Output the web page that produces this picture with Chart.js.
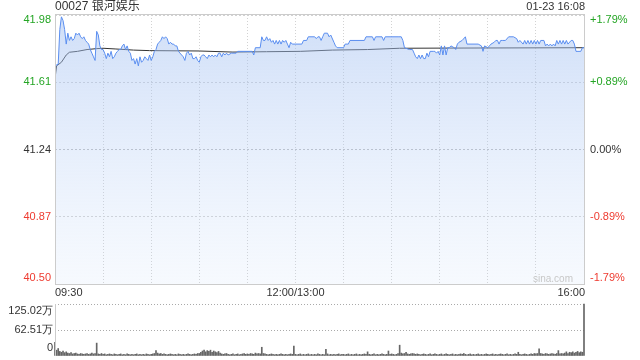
<!DOCTYPE html>
<html>
<head>
<meta charset="utf-8">
<title>00027 银河娱乐</title>
<script src="https://cdn.jsdelivr.net/npm/chart.js"></script>
<style>
  body { margin: 0; background: #fff; }
  #wrap { position: relative; width: 640px; height: 360px; }
  canvas { position: absolute; left: 0; }
  #main { top: 0; }
  #vol { top: 300px; }
</style>
</head>
<body>
<div id="wrap">
  <canvas id="main" width="640" height="300"></canvas>
  <canvas id="vol" width="640" height="60"></canvas>
</div>
<script>
// header texts
const stockTitle = '00027 银河娱乐';
const stamp = '01-23 16:08';

// minutes after 09:30 (lunch break removed, 330 = 16:00)
const priceMinutes = [
  0, 2, 3, 4, 5, 6, 7, 8, 9, 10, 11, 12, 13, 14, 15, 16, 17, 18, 19, 20,
  21, 22, 23, 24, 25, 26, 27, 28, 29, 30, 31, 32, 33, 34, 35, 36, 37, 38, 39, 40,
  41, 42, 43, 44, 45, 46, 47, 48, 49, 50, 51, 52, 53, 54, 55, 56, 57, 58, 59, 60,
  61, 62, 63, 64, 65, 66, 67, 68, 69, 70, 71, 72, 73, 74, 75, 76, 77, 79, 80, 81,
  82, 83, 84, 85, 86, 87, 88, 89, 90, 91, 92, 93, 94, 95, 96, 97, 98, 99, 100, 101,
  102, 103, 104, 105, 106, 107, 108, 110, 113, 114, 123, 124, 125, 128, 129, 130, 131, 132, 133, 134,
  135, 136, 137, 138, 139, 140, 141, 142, 143, 144, 145, 146, 147, 148, 154, 155, 157, 158, 162, 163,
  164, 165, 166, 167, 168, 170, 171, 172, 174, 175, 176, 180, 181, 183, 184, 193, 194, 198, 199, 200,
  204, 205, 206, 214, 216, 217, 218, 221, 223, 224, 225, 226, 227, 228, 229, 230, 231, 232, 233, 234,
  236, 237, 238, 239, 240, 241, 242, 243, 244, 245, 246, 247, 249, 250, 251, 252, 254, 256, 257, 264,
  266, 267, 268, 270, 271, 272, 274, 275, 276, 277, 278, 279, 281, 283, 286, 288, 289, 290, 292, 293,
  294, 295, 296, 297, 298, 299, 300, 301, 302, 303, 305, 306, 307, 308, 309, 310, 311, 312, 313, 314,
  315, 316, 317, 318, 319, 320, 322, 323, 324, 325, 328, 329, 330
];
const prices = [
  41.70, 41.71, 41.90, 41.97, 41.95, 41.90, 41.82, 41.88, 41.84, 41.86, 41.84, 41.85, 41.88, 41.87, 41.88, 41.86, 41.85, 41.86, 41.84, 41.83,
  41.82, 41.79, 41.77, 41.75, 41.73, 41.89, 41.87, 41.81, 41.79, 41.79, 41.77, 41.74, 41.77, 41.75, 41.78, 41.74, 41.75, 41.77, 41.78, 41.79,
  41.79, 41.81, 41.82, 41.79, 41.81, 41.78, 41.77, 41.73, 41.74, 41.71, 41.74, 41.70, 41.75, 41.72, 41.73, 41.75, 41.74, 41.73, 41.76, 41.73,
  41.75, 41.78, 41.79, 41.82, 41.83, 41.84, 41.86, 41.85, 41.86, 41.85, 41.82, 41.83, 41.82, 41.82, 41.81, 41.81, 41.78, 41.76, 41.75, 41.73,
  41.77, 41.78, 41.76, 41.77, 41.74, 41.74, 41.75, 41.73, 41.72, 41.75, 41.76, 41.76, 41.75, 41.74, 41.76, 41.75, 41.76, 41.75, 41.76, 41.75,
  41.77, 41.77, 41.75, 41.77, 41.76, 41.77, 41.76, 41.77, 41.77, 41.78, 41.78, 41.76, 41.80, 41.80, 41.86, 41.84, 41.84, 41.86, 41.84, 41.85,
  41.83, 41.84, 41.82, 41.84, 41.82, 41.84, 41.82, 41.84, 41.83, 41.84, 41.82, 41.80, 41.83, 41.82, 41.82, 41.84, 41.84, 41.86, 41.86, 41.85,
  41.86, 41.86, 41.84, 41.86, 41.88, 41.88, 41.86, 41.87, 41.83, 41.81, 41.80, 41.80, 41.82, 41.82, 41.84, 41.84, 41.86, 41.86, 41.84, 41.86,
  41.86, 41.84, 41.86, 41.86, 41.86, 41.84, 41.80, 41.79, 41.79, 41.77, 41.75, 41.74, 41.76, 41.74, 41.76, 41.74, 41.74, 41.77, 41.75, 41.78,
  41.78, 41.78, 41.77, 41.78, 41.76, 41.81, 41.76, 41.81, 41.76, 41.80, 41.80, 41.81, 41.80, 41.79, 41.82, 41.83, 41.84, 41.86, 41.82, 41.82,
  41.81, 41.78, 41.81, 41.80, 41.81, 41.82, 41.83, 41.84, 41.84, 41.82, 41.84, 41.84, 41.84, 41.86, 41.86, 41.85, 41.83, 41.84, 41.82, 41.84,
  41.82, 41.84, 41.82, 41.84, 41.82, 41.84, 41.82, 41.84, 41.82, 41.84, 41.84, 41.81, 41.82, 41.81, 41.82, 41.81, 41.82, 41.81, 41.84, 41.82,
  41.84, 41.82, 41.84, 41.82, 41.84, 41.82, 41.84, 41.84, 41.82, 41.78, 41.78, 41.80, 41.80
];

// average price line
const avgMinutes = [0, 1, 4, 7, 9, 14, 20, 26, 30, 38, 49, 59, 90, 111, 132, 153, 173, 195, 215, 246, 330];
const avgPrices = [41.63, 41.70, 41.72, 41.76, 41.775, 41.78, 41.79, 41.795, 41.797, 41.793, 41.787, 41.784, 41.782, 41.776, 41.778, 41.78, 41.787, 41.79, 41.797, 41.798, 41.80];

// volume per minute, in 万 (index = minute)
const volumes = [
  33, 14, 18, 11, 9, 12, 8, 10, 7, 6, 8, 5, 6, 7, 5, 4, 6, 5, 4, 5, 6, 4, 5, 7, 5, 6, 31, 5, 4, 6,
  4, 5, 3, 4, 5, 4, 3, 5, 4, 3, 4, 5, 3, 4, 3, 5, 4, 3, 4, 3, 4, 5, 3, 4, 3, 4, 3, 5, 4, 3,
  4, 5, 6, 13, 7, 5, 6, 4, 5, 4, 3, 4, 5, 4, 3, 4, 3, 5, 4, 3, 4, 3, 4, 5, 4, 3, 4, 5, 4, 6,
  6, 9, 12, 14, 10, 13, 11, 14, 9, 12, 10, 8, 11, 7, 5, 4, 5, 6, 4, 3, 4, 5, 3, 4, 5, 3, 4, 5, 6, 4,
  5, 4, 6, 5, 4, 7, 5, 6, 5, 21, 6, 5, 4, 3, 4, 5, 4, 3, 4, 3, 4, 5, 4, 3, 4, 3, 4, 5, 4, 24,
  4, 3, 4, 5, 3, 4, 3, 4, 5, 3, 4, 3, 4, 3, 5, 4, 3, 4, 3, 16, 5, 3, 4, 3, 4, 3, 4, 5, 3, 4,
  4, 3, 4, 5, 3, 4, 3, 4, 5, 3, 4, 3, 4, 5, 4, 10, 4, 3, 4, 5, 3, 4, 3, 4, 5, 4, 3, 4, 12, 4,
  5, 4, 3, 4, 6, 26, 7, 5, 6, 9, 5, 4, 5, 6, 5, 4, 5, 4, 3, 4, 5, 4, 3, 4, 5, 3, 4, 5, 4, 3,
  4, 5, 3, 4, 5, 4, 3, 4, 5, 3, 4, 3, 4, 5, 4, 6, 4, 3, 4, 5, 3, 4, 3, 4, 5, 3, 4, 3, 4, 5,
  4, 3, 4, 5, 3, 4, 3, 4, 5, 4, 3, 4, 5, 3, 4, 3, 4, 5, 4, 9, 4, 3, 4, 5, 4, 3, 4, 5, 4, 6,
  5, 6, 17, 6, 5, 4, 6, 5, 4, 5, 6, 5, 4, 6, 13, 5, 6, 5, 7, 10, 6, 9, 8, 10, 7, 9, 11, 8, 10, 9,
  125.02
];

// axis labels
const priceTicks = [41.98, 41.61, 41.24, 40.87, 40.50];
const pctTicks = ['+1.79%', '+0.89%', '0.00%', '-0.89%', '-1.79%'];
const timeTickMinutes = [0, 150, 330];
const timeTickLabels = ['09:30', '12:00/13:00', '16:00'];
const volTicks = [125.02, 62.51, 0];
const volTickLabels = ['125.02万', '62.51万', '0'];

const GREEN = '#24a524';
const RED = '#ee3b30';
const DARK = '#333';
const FONT = '11px "Liberation Sans", Arial, sans-serif';

function tickColor(i) {
    if (i < 2) return GREEN;
    if (i === 2) return DARK;
    return RED;
}

const mainText = {
    id: 'mainText',
    afterDraw(chart) {
        const { ctx, chartArea: a, scales } = chart;
        ctx.save();
        ctx.strokeStyle = '#cccccc';
        ctx.lineWidth = 1;
        ctx.strokeRect(a.left + 0.5, a.top - 0.5, a.right - a.left, a.bottom - a.top + 1);

        ctx.font = FONT;
        ctx.textBaseline = 'middle';
        priceTicks.forEach((v, i) => {
            let y = scales.y.getPixelForValue(v);
            if (i === 0) y += 5;
            if (i === priceTicks.length - 1) y -= 6;
            ctx.fillStyle = tickColor(i);
            ctx.textAlign = 'right';
            ctx.fillText(v.toFixed(2), a.left - 4, y);
            ctx.textAlign = 'left';
            ctx.fillText(pctTicks[i], a.right + 6, y);
        });

        ctx.fillStyle = DARK;
        timeTickMinutes.forEach((m, i) => {
            const x = scales.x.getPixelForValue(m);
            ctx.textAlign = i === 0 ? 'left' : (i === timeTickMinutes.length - 1 ? 'right' : 'center');
            ctx.fillText(timeTickLabels[i], x + (i === 2 ? 1 : 0), 293);
        });

        ctx.font = '12px "Liberation Sans", "Noto Sans CJK SC", sans-serif';
        ctx.textAlign = 'left';
        ctx.fillText(stockTitle, a.left, 7);
        ctx.font = FONT;
        ctx.textAlign = 'right';
        ctx.fillText(stamp, a.right + 1, 7);

        ctx.fillStyle = '#c8c8c8';
        ctx.font = '10px "Liberation Sans", Arial, sans-serif';
        ctx.fillText('sina.com', a.right - 11, a.bottom - 5);
        ctx.restore();
    }
};

const volText = {
    id: 'volText',
    afterDraw(chart) {
        const { ctx, chartArea: a, scales } = chart;
        ctx.save();
        ctx.strokeStyle = '#cccccc';
        ctx.lineWidth = 1;
        ctx.beginPath();
        ctx.moveTo(a.left + 0.5, a.top);
        ctx.lineTo(a.left + 0.5, a.bottom);
        ctx.stroke();
        ctx.font = FONT;
        ctx.fillStyle = DARK;
        ctx.textAlign = 'right';
        ctx.textBaseline = 'middle';
        volTicks.forEach((v, i) => {
            let y = scales.y.getPixelForValue(v);
            if (i === 0) y += 7;
            if (i === volTicks.length - 1) y -= 8;
            ctx.fillText(volTickLabels[i], a.left - 2, y);
        });
        ctx.restore();
    }
};

function areaFill(context) {
    const { ctx, chartArea } = context.chart;
    if (!chartArea) return null;
    const g = ctx.createLinearGradient(0, chartArea.top, 0, chartArea.bottom);
    g.addColorStop(0, 'rgba(160,190,240,0.5)');
    g.addColorStop(1, 'rgba(200,220,250,0.15)');
    return g;
}

new Chart(document.getElementById('main'), {
    type: 'line',
    data: {
        datasets: [{
            label: 'price',
            data: priceMinutes.map((m, i) => ({ x: m, y: prices[i] })),
            borderColor: '#5a8ef0',
            borderWidth: 1,
            backgroundColor: areaFill,
            fill: 'start',
            pointRadius: 0,
            tension: 0,
            order: 0
        }, {
            label: 'avg',
            data: avgMinutes.map((m, i) => ({ x: m, y: avgPrices[i] })),
            borderColor: '#333',
            borderWidth: 1,
            fill: false,
            pointRadius: 0,
            tension: 0,
            order: 1
        }]
    },
    options: {
        responsive: false,
        animation: false,
        events: [],
        layout: { padding: { left: 55, right: 56, top: 15, bottom: 16 } },
        plugins: { legend: { display: false }, tooltip: { enabled: false } },
        scales: {
            x: {
                type: 'linear', min: 0, max: 330,
                ticks: { display: false, stepSize: 30 },
                grid: { color: '#d2d2d2', drawTicks: false },
                border: { display: false, dash: [1, 2] }
            },
            y: {
                min: 40.50, max: 41.98,
                afterBuildTicks: (s) => { s.ticks = priceTicks.map(v => ({ value: v })); },
                ticks: { display: false },
                grid: { color: (c) => c.tick && c.tick.value === 41.24 ? '#bdbdbd' : '#d2d2d2', drawTicks: false },
                border: { display: false, dash: [2, 2] }
            }
        }
    },
    plugins: [mainText]
});

new Chart(document.getElementById('vol'), {
    type: 'bar',
    data: {
        datasets: [{
            data: volumes.map((v, i) => ({ x: i, y: v })),
            backgroundColor: '#666',
            barThickness: 1,
            clip: 2
        }]
    },
    options: {
        responsive: false,
        animation: false,
        events: [],
        layout: { padding: { left: 55, right: 56, top: 4, bottom: 4 } },
        plugins: { legend: { display: false }, tooltip: { enabled: false } },
        scales: {
            x: {
                type: 'linear', min: 0, max: 330, offset: false,
                ticks: { display: false },
                grid: { display: false, drawTicks: false },
                border: { display: false }
            },
            y: {
                min: 0, max: 125.02,
                afterBuildTicks: (s) => { s.ticks = volTicks.map(v => ({ value: v })); },
                ticks: { display: false },
                grid: { color: (c) => c.tick && c.tick.value === 0 ? 'rgba(0,0,0,0)' : '#aaaaaa', drawTicks: false },
                border: { display: false, dash: [1, 2] }
            }
        }
    },
    plugins: [volText]
});
</script>
</body>
</html>
